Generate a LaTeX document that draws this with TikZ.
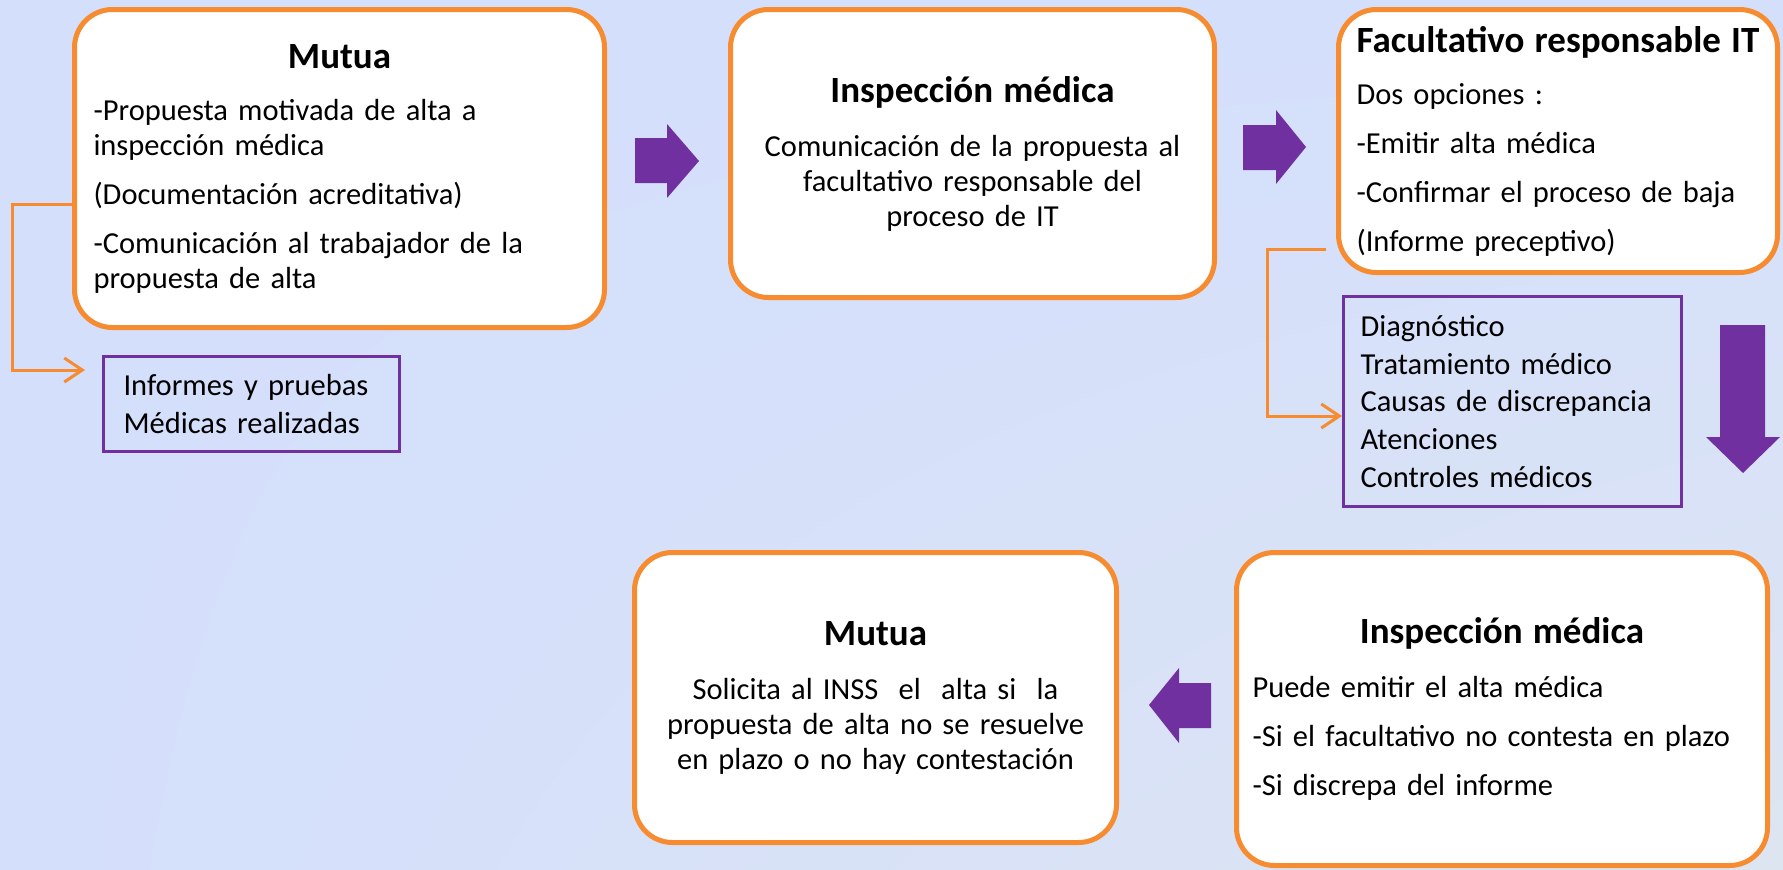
\documentclass[tikz,border=0pt]{standalone}
\usepackage{fontspec}
\setmainfont{Carlito}
\usetikzlibrary{arrows.meta, positioning, shadings}

\definecolor{bgblue}{RGB}{212,223,252}
\definecolor{bggray}{RGB}{221,229,241}
\definecolor{boxorange}{RGB}{246,139,47}
\definecolor{itpurple}{RGB}{112,48,160}

\newcommand{\bodysize}{\fontsize{30.5}{35}\selectfont\hyphenpenalty=10000\relax}
\newcommand{\notesize}{\fontsize{30.5}{37.7}\selectfont\hyphenpenalty=10000\relax}
\newcommand{\titlesize}{\fontsize{37}{42}\selectfont\bfseries}

\tikzset{
    stagebox/.style={draw=boxorange, line width=5pt, fill=white, rounded corners=38pt,
        inner xsep=19pt, inner ysep=0pt, font=\bodysize},
    notebox/.style={draw=itpurple, line width=3pt, inner xsep=20pt, inner ysep=0pt,
        align=left, font=\notesize},
    blockarrow/.style={fill=itpurple},
    link/.style={draw=boxorange, line width=3pt, -{Straight Barb[length=18pt, width=24pt]}},
}

\begin{document}
\begin{tikzpicture}[x=1pt, y=-1pt]
    \useasboundingbox (0,0) rectangle (1783,870);
    \shade[upper left=bgblue, upper right=bgblue, lower left=bgblue, lower right=bggray]
        (0,0) rectangle (1783,870);

    % boxes
    \node[stagebox, minimum width=530pt, minimum height=318pt, text width=492pt, align=left]
        (mutua) at (339.5,168.5)
        {{\centering\titlesize Mutua\par}\vspace{17pt}
         -Propuesta motivada de alta a\\ inspección médica\\[14pt]
         (Documentación acreditativa)\\[14pt]
         -Comunicación al trabajador de la\\ propuesta de alta};
    \node[stagebox, minimum width=484pt, minimum height=288pt, text width=446pt, align=center]
        (inspeccion) at (972.5,153.5)
        {{\titlesize Inspección médica\par}\vspace{19pt}
         Comunicación de la propuesta al\\ facultativo responsable del\\ proceso de IT};
    \node[stagebox, minimum width=439pt, minimum height=263pt, text width=403pt,
        inner xsep=18pt, align=left]
        (facultativo) at (1558,141)
        {{\centering\titlesize Facultativo responsable IT\par}\vspace{17pt}
         Dos opciones :\\[14pt]
         -Emitir alta médica\\[14pt]
         -Confirmar el proceso de baja\\[14pt]
         (Informe preceptivo)};
    \node[stagebox, minimum width=482pt, minimum height=290pt, text width=444pt, align=center]
        (solicita) at (875.5,697.5)
        {{\titlesize Mutua\par}\vspace{19pt}
         Solicita al INSS~ el~ alta si~ la\\ propuesta de alta no se resuelve\\ en plazo o no hay contestación};
    \node[stagebox, minimum width=531pt, minimum height=313pt, text width=499pt,
        inner xsep=16pt, align=left]
        (emite) at (1502,709)
        {{\centering\titlesize Inspección médica\par}\vspace{19pt}
         Puede emitir el alta médica\\[14pt]
         -Si el facultativo no contesta en plazo\\[14pt]
         -Si discrepa del informe};

    % notes
    \node[notebox, minimum width=296pt, minimum height=95pt, text width=256pt]
        (informes) at (251.5,404) {Informes y pruebas\\ Médicas realizadas};
    \node[notebox, minimum width=338pt, minimum height=210pt, text width=304pt,
        inner xsep=17pt]
        (diagnostico) at (1512.5,401.5)
        {Diagnóstico\\ Tratamiento médico\\ Causas de discrepancia\\ Atenciones\\ Controles médicos};

    % links
    \draw[link, shorten >=17pt] (mutua.west |- 0,204) -- (12,204) |- (informes.west |- 0,370);
    \draw[link, shorten <=10pt] (facultativo.west |- 0,249) -- (1267,249) |- (diagnostico.west |- 0,416);

    % block arrows
    \fill[blockarrow] (635,138) -- (667,138) -- (667,124) -- (699,161)
        -- (667,198) -- (667,183) -- (635,183) -- cycle;
    \fill[blockarrow] (1243,125) -- (1276,125) -- (1276,110) -- (1306,147)
        -- (1276,184) -- (1276,170) -- (1243,170) -- cycle;
    \fill[blockarrow] (1720,325) -- (1765,325) -- (1765,437) -- (1780,437)
        -- (1743,473) -- (1706,437) -- (1720,437) -- cycle;
    \fill[blockarrow] (1211,683) -- (1211,728) -- (1179,728) -- (1179,743)
        -- (1149,705) -- (1179,668) -- (1179,683) -- cycle;
\end{tikzpicture}
\end{document}
